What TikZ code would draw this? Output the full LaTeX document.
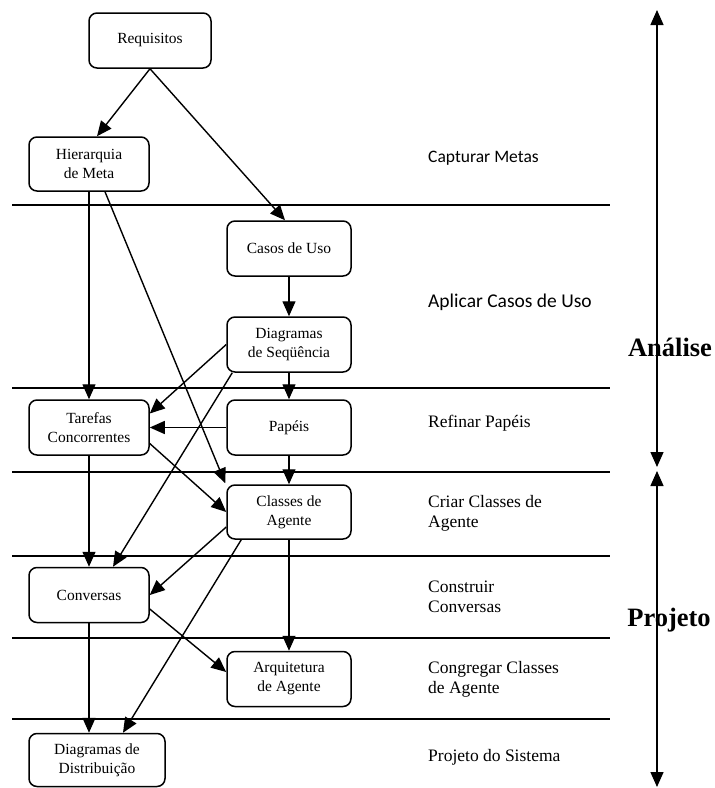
\documentclass[tikz,border=0pt]{standalone}
\usepackage{fontspec}
\setmainfont{Liberation Serif}
\newfontfamily\calib{Carlito}
\usetikzlibrary{arrows.meta}
\begin{document}
\begin{tikzpicture}[x=1pt,y=-1pt,
  box/.style={draw,line width=1.5pt,rounded corners=8pt,inner sep=0pt,
    minimum width=124pt,minimum height=55pt,align=center,
    font=\fontsize{15.5}{19}\selectfont},
  flow/.style={line width=1.4pt,-{Triangle[length=15pt,width=13pt]}},
  sep/.style={line width=1.5pt},
  stage/.style={anchor=west,align=left,inner sep=0pt,
    font=\fontsize{17.5}{20}\selectfont},
  phase/.style={font=\bfseries\fontsize{26.5}{30}\selectfont,inner sep=0pt}]
\useasboundingbox (0,0) rectangle (715,788);

% phase separators
\foreach \y in {205,388,472,556,638,719}
  \draw[sep] (12,\y) -- (610,\y);

% activity boxes
\node[box,minimum width=122pt] (req) at (150,40.5) {Requisitos};
\node[box,minimum width=120pt,minimum height=54pt] (hier) at (89,164) {Hierarquia\\de Meta};
\node[box] (cu) at (289,248.5) {Casos de Uso};
\node[box] (seq) at (289,344.5) {Diagramas\\de Seqüência};
\node[box,minimum width=120pt] (tar) at (89,427.5) {Tarefas\\Concorrentes};
\node[box] (pap) at (289,427.5) {Papéis};
\node[box,minimum height=54pt] (ca) at (289,512) {Classes de\\Agente};
\node[box,minimum width=120pt] (conv) at (89,595) {Conversas};
\node[box] (arq) at (289,679) {Arquitetura\\de Agente};
\node[box,minimum width=136pt,minimum height=53pt] (dist) at (97,760) {Diagramas de\\Distribuição};

% dependencies
\draw[flow] (req.south) -- ([xshift=8pt]hier.north);
\draw[flow] (req.south) -- ([xshift=-4pt]cu.north);
\draw[flow] (hier.south) -- (tar.north);
\draw[flow] ([xshift=16pt]hier.south) -- ([xshift=-1pt,yshift=1pt]ca.north west);
\draw[flow] (cu.south) -- (seq.north);
\draw[flow] (seq.south) -- (pap.north);
\draw[flow] (seq.west) -- ([yshift=14pt]tar.east);
\draw[flow] ([xshift=6pt]seq.south west) -- ([xshift=24pt]conv.north);
\draw[flow] (pap.west) -- (tar.east);
\draw[flow] (pap.south) -- (ca.north);
\draw[flow] ([yshift=-16pt]tar.east) -- (ca.west);
\draw[flow] (tar.south) -- (conv.north);
\draw[flow] ([yshift=-15pt]ca.west) -- (conv.east);
\draw[flow] ([xshift=15pt]ca.south west) -- ([xshift=26pt]dist.north);
\draw[flow] (ca.south) -- (arq.north);
\draw[flow] ([yshift=-14pt]conv.east) -- ([yshift=7pt]arq.west);
\draw[flow] (conv.south) -- (conv.south |- dist.north);

% stage labels
\node[stage,font=\calib\fontsize{17.5}{20}\selectfont] (s1) at (428,158) {Capturar Metas};
\node[stage,font=\calib\fontsize{19.5}{22}\selectfont] (s2) at (428,302) {Aplicar Casos de Uso};
\node[stage] (s3) at (428,423) {Refinar Papéis};
\node[stage] (s4) at (428,513) {Criar Classes de\\Agente};
\node[stage] (s5) at (428,597) {Construir\\Conversas};
\node[stage] (s6) at (428,679) {Congregar Classes\\de Agente};
\node[stage] (s7) at (428,757) {Projeto do Sistema};

% phase spans
\coordinate (ptop) at (657,10);
\coordinate (pmidA) at (657,467);
\coordinate (pmidB) at (657,471);
\coordinate (pbot) at (657,787);
\draw[line width=1.4pt,{Triangle[length=15pt,width=13pt]}-{Triangle[length=15pt,width=13pt]}] (ptop) -- (pmidA);
\draw[line width=1.4pt,{Triangle[length=15pt,width=13pt]}-{Triangle[length=15pt,width=13pt]}] (pmidB) -- (pbot);
\node[phase] (an) at (670,347) {Análise};
\node[phase] (pr) at (669,620) {Projeto};
\end{tikzpicture}
\end{document}
